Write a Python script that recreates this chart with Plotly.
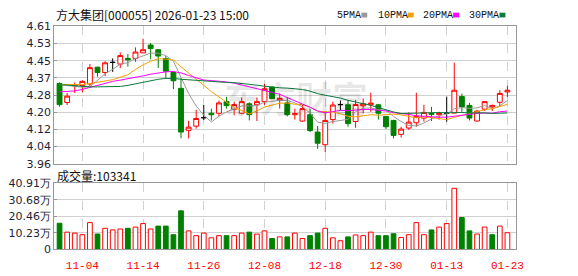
import numpy as np
import pandas as pd
import plotly.graph_objects as go

# ---------------- data ----------------
dates = ["10-30", "10-31", "11-03", "11-04", "11-05", "11-06", "11-07", "11-10", "11-11", "11-12",
         "11-13", "11-14", "11-17", "11-18", "11-19", "11-20", "11-21", "11-24", "11-25", "11-26",
         "11-27", "11-28", "12-01", "12-02", "12-03", "12-04", "12-05", "12-08", "12-09", "12-10",
         "12-11", "12-12", "12-15", "12-16", "12-17", "12-18", "12-19", "12-22", "12-23", "12-24",
         "12-25", "12-26", "12-29", "12-30", "12-31", "01-05", "01-06", "01-07", "01-08", "01-09",
         "01-12", "01-13", "01-14", "01-15", "01-16", "01-19", "01-20", "01-21", "01-22", "01-23"]

opens = [4.34, 4.25, 4.328, 4.33, 4.338, 4.417, 4.392, 4.44, 4.432, 4.459,
         4.459, 4.485, 4.522, 4.50, 4.458, 4.392, 4.317, 4.118, 4.138, 4.178,
         4.199, 4.199, 4.254, 4.218, 4.199, 4.244, 4.239, 4.254, 4.323, 4.262,
         4.248, 4.192, 4.162, 4.192, 4.11, 4.05, 4.169, 4.24, 4.239, 4.16,
         4.234, 4.239, 4.239, 4.184, 4.165, 4.099, 4.129, 4.154, 4.176, 4.199,
         4.192, 4.20, 4.20, 4.278, 4.236, 4.162, 4.218, 4.229, 4.251, 4.30]
highs = [4.345, 4.295, 4.345, 4.355, 4.432, 4.42, 4.445, 4.459, 4.487, 4.48,
         4.511, 4.552, 4.532, 4.502, 4.47, 4.398, 4.365, 4.163, 4.215, 4.238,
         4.221, 4.259, 4.277, 4.254, 4.274, 4.251, 4.274, 4.338, 4.326, 4.293,
         4.274, 4.221, 4.239, 4.221, 4.139, 4.206, 4.254, 4.259, 4.259, 4.262,
         4.269, 4.296, 4.242, 4.186, 4.168, 4.135, 4.203, 4.296, 4.239, 4.229,
         4.206, 4.278, 4.438, 4.292, 4.248, 4.215, 4.256, 4.24, 4.308, 4.329]
lows = [4.23, 4.238, 4.295, 4.297, 4.327, 4.372, 4.375, 4.395, 4.413, 4.42,
        4.443, 4.484, 4.454, 4.413, 4.365, 4.313, 4.08, 4.08, 4.126, 4.167,
        4.165, 4.184, 4.221, 4.189, 4.194, 4.165, 4.162, 4.239, 4.266, 4.221,
        4.184, 4.169, 4.159, 4.11, 4.03, 4.015, 4.15, 4.214, 4.135, 4.13,
        4.199, 4.206, 4.169, 4.124, 4.08, 4.084, 4.12, 4.135, 4.159, 4.162,
        4.169, 4.159, 4.199, 4.206, 4.165, 4.16, 4.21, 4.21, 4.233, 4.274]
closes = [4.24, 4.28, 4.335, 4.35, 4.415, 4.392, 4.438, 4.44, 4.472, 4.452,
          4.489, 4.50, 4.505, 4.47, 4.398, 4.353, 4.11, 4.133, 4.174, 4.178,
          4.192, 4.248, 4.235, 4.24, 4.254, 4.192, 4.254, 4.315, 4.268, 4.27,
          4.192, 4.197, 4.221, 4.117, 4.057, 4.165, 4.238, 4.24, 4.15, 4.24,
          4.244, 4.247, 4.199, 4.135, 4.094, 4.124, 4.157, 4.184, 4.203, 4.194,
          4.198, 4.20, 4.308, 4.229, 4.176, 4.209, 4.254, 4.236, 4.293, 4.308]
volumes = [161900, 107100, 101200, 91200, 166000, 95300, 130700, 120700, 126500, 130700,
           138300, 160000, 126500, 144200, 144200, 91200, 238400, 114800, 85300, 101200,
           71800, 85300, 85300, 85300, 101200, 107100, 95300, 114800, 67700, 77700,
           77700, 101200, 67700, 85300, 101200, 130700, 71800, 54100, 77700, 89500,
           85300, 107100, 85300, 85300, 97100, 73600, 91200, 166000, 91200, 120700,
           138300, 160000, 377900, 197200, 114800, 95300, 138300, 91200, 144200, 103341]

# moving-average values visible before enough bars exist in this window
ma5_head = [4.335, 4.33, 4.325, 4.322]
ma10_head = [4.335, 4.335, 4.333, 4.335, 4.34, 4.345, 4.35, 4.358, 4.37]
ma20_head = [4.30, 4.302, 4.305, 4.312, 4.322, 4.332, 4.342, 4.35, 4.356, 4.362,
             4.368, 4.376, 4.384, 4.39, 4.395, 4.397, 4.39, 4.378, 4.366]
ma30_head = [4.335, 4.332, 4.329, 4.326, 4.324, 4.324, 4.325, 4.324, 4.326, 4.331,
             4.338, 4.346, 4.354, 4.36, 4.364, 4.364, 4.36, 4.357, 4.354, 4.351,
             4.348, 4.346, 4.345, 4.344, 4.341, 4.337, 4.332, 4.327, 4.322]

price_tick_text = ["3.96", "4.04", "4.12", "4.20", "4.28", "4.37", "4.45", "4.53", "4.61"]
vol_tick_text = ["0", "10.23万", "20.46万", "30.68万", "40.91万"]
date_ticks = ["11-04", "11-14", "11-26", "12-08", "12-18", "12-30", "01-13", "01-23"]
ma_names = ["5PMA", "10PMA", "20PMA", "30PMA"]
title_text = "方大集团[000055] 2026-01-23 15:00"
vol_title = "成交量:103341"

# ---------------- build ----------------
df = pd.DataFrame(dict(date=dates, open=opens, high=highs, low=lows, close=closes, vol=volumes))

def moving_average(n, head):
    m = df["close"].rolling(n).mean()
    m.iloc[:len(head)] = head
    return m

mas = [moving_average(5, ma5_head), moving_average(10, ma10_head),
       moving_average(20, ma20_head), moving_average(30, ma30_head)]
ma_colors = ["#9a9a9a", "#f5a000", "#ff00ff", "#0b7a3b"]

RED = "#ff0000"
GREEN = "#008000"
W, H = 578, 276

up = df[df.close > df.open]
down = df[df.close < df.open]
flat = df[df.close == df.open]

prev_close = df.close.shift(1)
vol_up = (df.close >= prev_close)
vol_up.iloc[0] = df.close.iloc[0] >= df.open.iloc[0]

fig = go.Figure()

# volume bars (bottom subplot)
vu = df[vol_up]
vd = df[~vol_up]
fig.add_trace(go.Bar(x=vu.date, y=vu.vol, width=0.62, marker=dict(color="white", line=dict(color=RED, width=1)),
                     xaxis="x", yaxis="y", showlegend=False, hoverinfo="skip"))
fig.add_trace(go.Bar(x=vd.date, y=vd.vol, width=0.62, marker=dict(color=GREEN, line=dict(color=GREEN, width=1)),
                     xaxis="x", yaxis="y", showlegend=False, hoverinfo="skip"))

# candles (top subplot)
def candle(d, line_col, fill_col):
    return go.Candlestick(x=d.date, open=d.open, high=d.high, low=d.low, close=d.close,
                          increasing=dict(line=dict(color=line_col, width=1), fillcolor=fill_col),
                          decreasing=dict(line=dict(color=line_col, width=1), fillcolor=fill_col),
                          whiskerwidth=0, xaxis="x2", yaxis="y2", showlegend=False, hoverinfo="skip")

fig.add_trace(candle(up, RED, "white"))
fig.add_trace(candle(down, GREEN, GREEN))
fig.add_trace(candle(flat, "black", "black"))

for m, c in zip(mas, ma_colors):
    fig.add_trace(go.Scatter(x=df.date, y=m, mode="lines", line=dict(color=c, width=1),
                             xaxis="x2", yaxis="y2", showlegend=False, hoverinfo="skip"))

x_dom = [55 / W, 523 / W]
xr = [-0.7, 60.1]
grid_col = "#d0d0d0"
frame_col = "#979797"
tick_font = dict(family="DejaVu Sans", size=11, color="#1f1f33")

common_x = dict(type="category", categoryorder="array", categoryarray=dates, range=xr, domain=x_dom,
                tickmode="array", tickvals=date_ticks, showgrid=True, gridcolor=grid_col, griddash="dash",
                gridwidth=1, showline=True, mirror=True, linecolor=frame_col, linewidth=1,
                zeroline=False, fixedrange=True, ticks="", rangeslider=dict(visible=False))

fig.update_layout(
    width=W, height=H, margin=dict(l=0, r=0, t=0, b=0),
    paper_bgcolor="white", plot_bgcolor="white",
    showlegend=False, boxgap=0.36, boxgroupgap=0, bargap=0.3,
    xaxis=dict(**common_x, ticktext=date_ticks, anchor="y",
               tickfont=dict(family="Liberation Mono", size=11, color=RED), ticklabelstandoff=5),
    xaxis2=dict(**common_x, showticklabels=False, anchor="y2"),
    yaxis=dict(domain=[1 - 255.5 / H, 1 - 186 / H], range=[0, 409100],
               tickmode="array", tickvals=list(np.linspace(0, 409100, 5)), ticktext=vol_tick_text,
               showgrid=True, gridcolor=grid_col, showline=True, mirror=True, linecolor=frame_col,
               zeroline=False, ticks="inside", ticklen=3, tickcolor=frame_col, tickfont=tick_font,
               anchor="x", fixedrange=True),
    yaxis2=dict(domain=[1 - 165.5 / H, 1 - 21.5 / H], range=[3.96, 4.61],
                tickmode="array", tickvals=list(np.linspace(3.96, 4.61, 9)), ticktext=price_tick_text,
                showgrid=True, gridcolor=grid_col, showline=True, mirror=True, linecolor=frame_col,
                zeroline=False, ticks="inside", ticklen=3, tickcolor=frame_col, tickfont=tick_font,
                anchor="x2", fixedrange=True),
)

def px(x):
    return x / W

def py(y):
    return 1 - y / H

annotations = [
    dict(text=title_text, x=px(55), y=py(9), xref="paper", yref="paper", xanchor="left", yanchor="middle",
         showarrow=False, font=dict(family="Noto Sans CJK SC", size=12, color="#111")),
    dict(text=vol_title, x=px(56), y=py(177.5), xref="paper", yref="paper", xanchor="left", yanchor="middle",
         showarrow=False, font=dict(family="Noto Sans CJK SC", size=12, color="#111")),
    dict(text="东方财富", x=px(300), y=py(95), xref="paper", yref="paper", xanchor="center", yanchor="middle",
         showarrow=False, font=dict(family="Noto Sans CJK SC", size=36, color="rgba(0,0,0,0.09)", weight="bold")),
]
shapes = []
leg_x = [340, 381, 427, 474]
for name, col, lx in zip(ma_names, ma_colors, leg_x):
    annotations.append(dict(text=name, x=px(lx), y=py(9.5), xref="paper", yref="paper", xanchor="left",
                            yanchor="middle", showarrow=False,
                            font=dict(family="Liberation Mono", size=10, color="#111")))
    sx = lx + 6.1 * len(name) + 2
    shapes.append(dict(type="rect", xref="paper", yref="paper", x0=px(sx), x1=px(sx + 6),
                       y0=py(12), y1=py(7), fillcolor=col, line=dict(width=0)))

fig.update_layout(annotations=annotations, shapes=shapes)
fig.write_html("out.html")
